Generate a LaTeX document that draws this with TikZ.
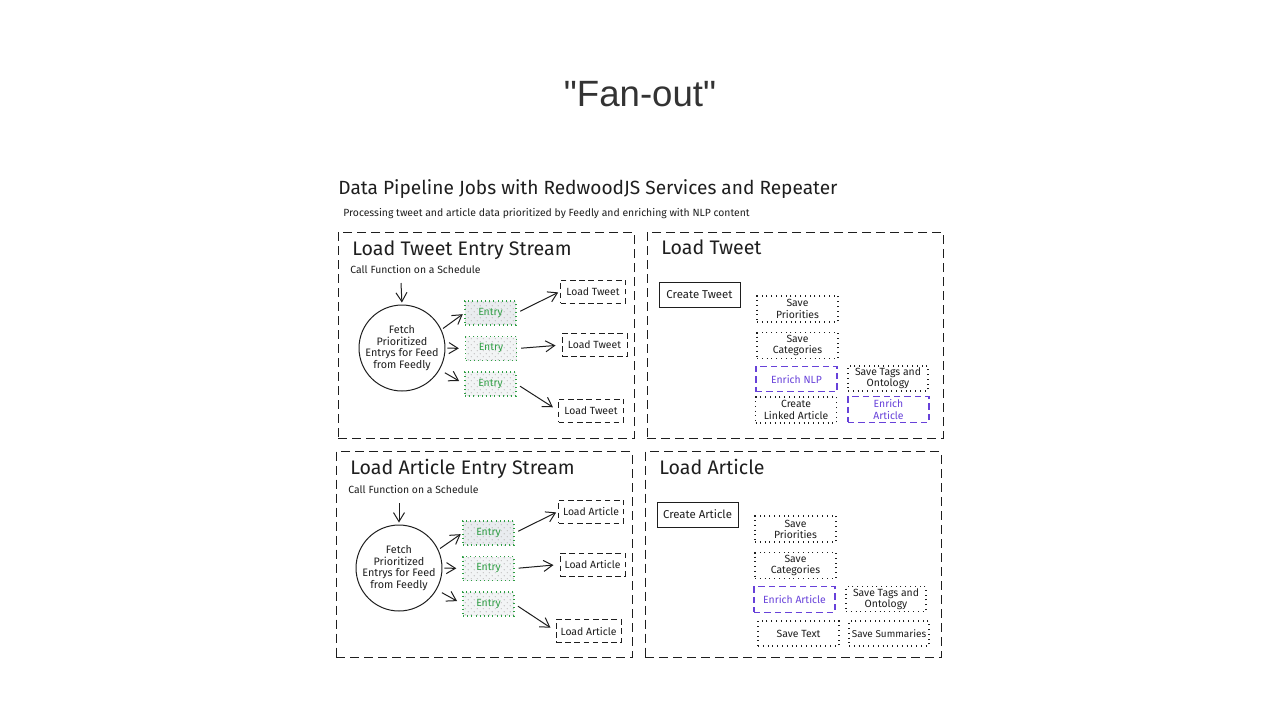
\documentclass[tikz,border=0pt]{standalone}
\usepackage{fontspec}
\setmainfont{Fira Sans}
\newfontfamily\titlefont{Liberation Sans}
\usetikzlibrary{arrows.meta,patterns}
\definecolor{ink}{HTML}{1E1E1E}
\definecolor{egreen}{HTML}{2F9E44}
\definecolor{epurple}{HTML}{6741D9}
\definecolor{efill}{HTML}{E9ECEF}
\definecolor{fanc}{HTML}{333333}
\begin{document}
\begin{tikzpicture}[x=0.5pt,y=-0.5pt,
  panel/.style={draw=ink, line width=0.5pt, dash pattern=on 4.5pt off 2.5pt,
    minimum width=148pt, minimum height=103pt, inner sep=0pt},
  ptitle/.style={font=\fontsize{9.8}{11}\selectfont, text=ink, anchor=base west, inner sep=0pt},
  dtitle/.style={font=\fontsize{9.55}{11}\selectfont, text=ink, anchor=base west, inner sep=0pt},
  note/.style={font=\fontsize{5.2}{6}\selectfont, text=ink, anchor=base west, inner sep=0pt},
  fetch/.style={circle, draw=ink, line width=0.5pt, minimum size=42.5pt, inner sep=0pt,
    align=center, text=ink, font=\fontsize{5.4}{5.85}\selectfont},
  entry/.style={draw=egreen, line width=0.65pt, dash pattern=on 0.5pt off 1.6pt,
    preaction={fill=efill!60}, pattern=north east lines, pattern color=gray!45,
    minimum width=25.5pt, minimum height=12pt, inner sep=0pt, text=egreen,
    font=\fontsize{5.2}{5.5}\selectfont},
  loadbox/.style={draw=ink, line width=0.5pt, dash pattern=on 2.8pt off 1.8pt,
    minimum width=32.5pt, minimum height=11.5pt, inner sep=0pt, text=ink,
    font=\fontsize{5.2}{5.6}\selectfont},
  solidbox/.style={draw=ink, line width=0.5pt, minimum width=40.5pt, minimum height=12.5pt,
    inner sep=0pt, text=ink, font=\fontsize{5.7}{5.6}\selectfont},
  dotbox/.style={draw=ink, line width=0.55pt, dash pattern=on 0.5pt off 1.9pt,
    minimum width=40.5pt, minimum height=13pt, inner sep=0pt, align=center, text=ink,
    font=\fontsize{5.2}{5.6}\selectfont},
  enrich/.style={draw=epurple, line width=0.7pt, dash pattern=on 3.2pt off 2pt,
    minimum width=40.5pt, minimum height=12.75pt, inner sep=0pt, align=center, text=epurple,
    font=\fontsize{5.2}{5.6}\selectfont},
  arr/.style={draw=ink, line width=0.5pt, -{Straight Barb[length=4.5pt,width=5.5pt]}},
]
\useasboundingbox (0,0) rectangle (1280,720);

% headings
\node[font=\titlefont\fontsize{18.3}{20}\selectfont, text=fanc] (fan) at (640,94) {"Fan-out"};
\node[dtitle] (dt) at (338,194) {Data Pipeline Jobs with RedwoodJS Services and Repeater};
\node[note] (dst) at (343,216) {Processing tweet and article data prioritized by Feedly and enriching with NLP content};

% panels
\node[panel] (p1) at (486,335) {};
\node[panel] (p2) at (795,335) {};
\node[panel] (p3) at (484,554.5) {};
\node[panel] (p4) at (793,554.5) {};

% ---------- panel 1 ----------
\node[ptitle] (t1) at (352,255) {Load Tweet Entry Stream};
\node[note] (n1) at (350,273) {Call Function on a Schedule};
\coordinate (c1) at (401,283);
\node[fetch] (f1) at (402,348) {Fetch\\Prioritized\\Entrys for Feed\\from Feedly};
\node[entry, preaction={fill=efill}] (e11) at (490.5,313) {Entry};
\node[entry] (e12) at (491,348.5) {Entry};
\node[entry] (e13) at (490.5,384) {Entry};
\node[loadbox] (lt1) at (593,291.5) {Load Tweet};
\node[loadbox] (lt2) at (594.5,345) {Load Tweet};
\node[loadbox] (lt3) at (591,410.5) {Load Tweet};
\draw[arr, shorten >=1pt] (c1) -- (f1.north);
\draw[arr, shorten <=1pt, shorten >=1pt] (f1.25) -- (e11.west);
\draw[arr, shorten <=1pt, shorten >=3pt] (f1.east) -- (e12.west);
\draw[arr, shorten <=3pt, shorten >=3pt] (f1.-30) -- (e13.west);
\draw[arr, shorten <=2pt, shorten >=1pt] (e11.east) -- (lt1.west);
\draw[arr, shorten <=2pt, shorten >=3pt] (e12.east) -- (lt2.west);
\draw[arr, shorten <=2pt, shorten >=3pt] (e13.east) -- (lt3.west);

% ---------- panel 2 ----------
\node[ptitle] (t2) at (661,254) {Load Tweet};
\node[solidbox] (ct) at (699.5,294.5) {Create Tweet};
\node[dotbox] (sp1) at (797.5,309) {Save\\Priorities};
\node[dotbox] (sc1) at (797.5,345.5) {Save\\Categories};
\node[enrich] (en1) at (796.5,379) {Enrich NLP};
\node[dotbox, minimum width=40pt, minimum height=12.5pt] (st1) at (888,378.5) {Save Tags and\\Ontology};
\node[dotbox] (cl1) at (796,410) {Create\\Linked Article};
\node[enrich] (ea1) at (888.5,409.5) {Enrich\\Article};

% ---------- panel 3 ----------
\node[ptitle] (t3) at (350,474) {Load Article Entry Stream};
\node[note] (n3) at (348,493) {Call Function on a Schedule};
\coordinate (c3) at (399,503);
\node[fetch] (f3) at (399,568) {Fetch\\Prioritized\\Entrys for Feed\\from Feedly};
\node[entry, preaction={fill=efill}] (e31) at (488.5,533) {Entry};
\node[entry] (e32) at (488.5,568.5) {Entry};
\node[entry] (e33) at (488.5,604) {Entry};
\node[loadbox] (la1) at (591,511.5) {Load Article};
\node[loadbox] (la2) at (592.5,564.5) {Load Article};
\node[loadbox] (la3) at (588.5,631) {Load Article};
\draw[arr, shorten >=1pt] (c3) -- (f3.north);
\draw[arr, shorten <=1pt, shorten >=1pt] (f3.25) -- (e31.west);
\draw[arr, shorten <=1pt, shorten >=3pt] (f3.east) -- (e32.west);
\draw[arr, shorten <=3pt, shorten >=3pt] (f3.-30) -- (e33.west);
\draw[arr, shorten <=2pt, shorten >=1pt] (e31.east) -- (la1.west);
\draw[arr, shorten <=2pt, shorten >=3pt] (e32.east) -- (la2.west);
\draw[arr, shorten <=2pt, shorten >=3pt] (e33.east) -- (la3.west);

% ---------- panel 4 ----------
\node[ptitle] (t4) at (659,474) {Load Article};
\node[solidbox] (ca) at (697.5,514.5) {Create Article};
\node[dotbox] (sp2) at (795.5,529) {Save\\Priorities};
\node[dotbox] (sc2) at (795.5,565.5) {Save\\Categories};
\node[enrich] (ea2) at (794.5,599.5) {Enrich Article};
\node[dotbox, minimum width=40pt, minimum height=12.5pt] (st2) at (886,599) {Save Tags and\\Ontology};
\node[dotbox, minimum height=12.5pt] (stx) at (798.5,633.5) {Save Text};
\node[dotbox, minimum width=40pt, minimum height=12.5pt, font=\fontsize{5}{5.6}\selectfont] (ss) at (889,633.5) {Save Summaries};
\end{tikzpicture}
\end{document}
